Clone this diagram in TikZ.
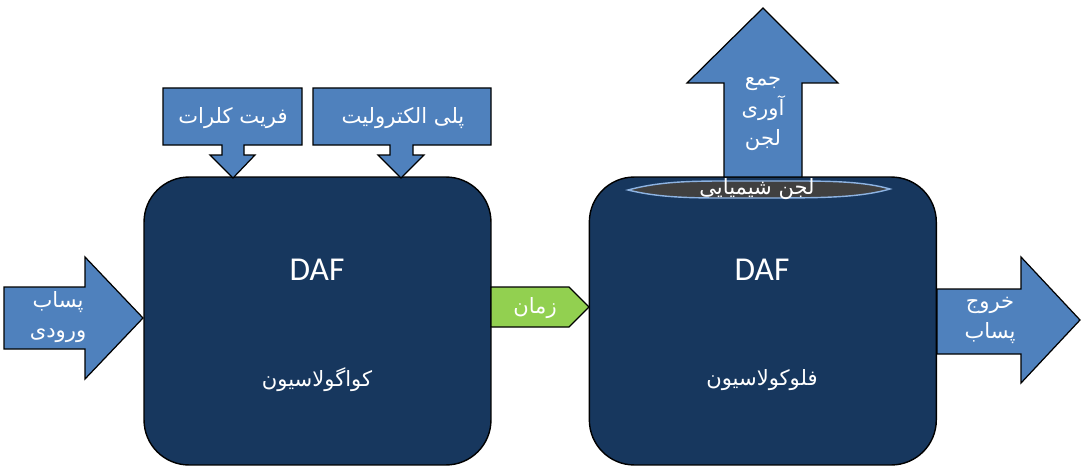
\documentclass[tikz,border=0pt]{standalone}
\usepackage{fontspec}
\setmainfont{Carlito}
\newfontfamily\arabicfont[Script=Arabic]{DejaVu Sans}
\TeXXeTstate=1
\usetikzlibrary{positioning}

\definecolor{navy}{HTML}{17375E}
\definecolor{flowblue}{HTML}{4F81BD}
\definecolor{timegreen}{HTML}{92D050}
\definecolor{sludgegray}{HTML}{404040}
\definecolor{glowblue}{HTML}{8DB3E2}

\tikzstyle{tank} = [draw=black, line width=0.8pt, fill=navy, rounded corners=0.9cm, minimum width=6.94cm, minimum height=5.76cm]
\tikzstyle{flow} = [draw=black, line width=0.7pt, fill=flowblue]
\tikzstyle{daf} = [text=white, font=\fontsize{19}{22}\selectfont]
\tikzstyle{fa} = [text=white, align=center, font=\arabicfont\fontsize{12}{17}\selectfont]

\begin{document}
\begin{tikzpicture}[x=0.02cm, y=-0.02cm]
\useasboundingbox (0,0) rectangle (1081,466);

\node[tank] (coag) at (317.5,321) {};
\node[tank, right=1.94cm of coag] (floc) {};

\fill[sludgegray, draw=glowblue, line width=0.8pt]
    (628,190) .. controls (665,180) and (700,181) .. (757,181)
    .. controls (820,181) and (858,180) .. (890,189)
    .. controls (858,198) and (820,198) .. (757,198)
    .. controls (700,198) and (665,199) .. (628,190) -- cycle;

% inflow
\draw[flow] (4,287) -- (85,287) -- (85,257) -- (143,318) -- (85,379) -- (85,349) -- (4,349) -- cycle;
% outflow
\draw[flow] (937,289) -- (1021,289) -- (1021,257) -- (1080,320) -- (1021,383) -- (1021,354) -- (937,354) -- cycle;
% sludge removal
\draw[flow] (724,177) -- (724,83) -- (687,83) -- (763,8) -- (838,83) -- (802,83) -- (802,177) -- cycle;
% dosing
\draw[flow] (163,88) -- (302,88) -- (302,145) -- (244,145) -- (244,155) -- (255,155) -- (233,178)
    -- (210,155) -- (222,155) -- (222,145) -- (163,145) -- cycle;
\draw[flow] (313,88) -- (491,88) -- (491,145) -- (413,145) -- (413,155) -- (424,155) -- (401,178)
    -- (378,155) -- (390,155) -- (390,145) -- (313,145) -- cycle;
% time
\draw[draw=black, line width=0.7pt, fill=timegreen] (491,287) -- (569,287) -- (589,307) -- (569,327) -- (491,327) -- cycle;

\node[daf] (daf1) at (317,270) {DAF};
\node[daf] (daf2) at (762,270) {DAF};
\node[fa] (coagtxt) at (317,380) {\beginR کواگولاسیون\endR};
\node[fa] (floctxt) at (762,380) {\beginR فلوکولاسیون\endR};
\node[fa] (intxt) at (58,317) {\beginR پساب\endR\\\beginR ورودی\endR};
\node[fa] (outtxt) at (990,320) {\beginR خروج\endR\\\beginR پساب\endR};
\node[fa] (timetxt) at (535,308) {\beginR زمان\endR};
\node[fa] (ferric) at (233,118) {\beginR فریت کلرات\endR};
\node[fa] (poly) at (403,118) {\beginR پلی الکترولیت\endR};
\node[fa] (sludge) at (757,189) {\beginR لجن شیمیایی\endR};
\node[fa] (collect) at (763,114) {\beginR جمع\endR\\\beginR آوری\endR\\\beginR لجن\endR};
\end{tikzpicture}
\end{document}
